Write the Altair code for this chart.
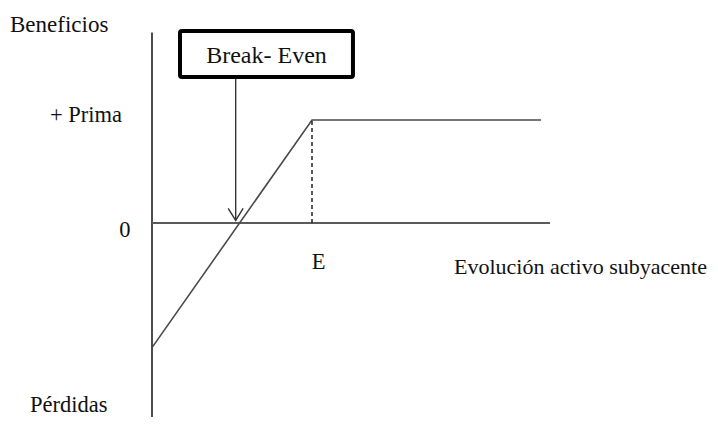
import altair as alt
import pandas as pd

# ---- data (diagram units: strike E = 100, premium = 10) ----
payoff_x = [0, 100, 243.1]
payoff_y = [-12.1, 10, 10]
strike = 100
prima = 10
breakeven_x = 52.3
vaxis_y = [-18.9, 18.5]
zero_line_x = [0, 248.8]
box_x = [17.5, 125.6]
box_y = [14.17, 18.64]
box_label = "Break- Even"
arrow_top = 14.17

left_labels = ["Beneficios", "Pérdidas", "Evolución activo subyacente"]
left_x = [-88.75, -76.25, 188.75]
left_y = [18.5, -18.35, -4.95]
left_size = [23, 22.5, 22]
right_labels = ["+ Prima"]
right_x = [-18.75]
right_y = [9.83]
center_labels = ["0", "E"]
center_x = [-16.9, 104.1]
center_y = [-1.36, -4.47]

# ---- layout ----
W, H = 702, 409
PX_X, PX_Y = 1.60, 10.3           # pixels per unit
ORIGIN_X, ORIGIN_Y = 144, 215      # origin position inside plot area
xdom = [-ORIGIN_X / PX_X, (W - ORIGIN_X) / PX_X]
ydom = [-(H - ORIGIN_Y) / PX_Y, ORIGIN_Y / PX_Y]
xs = alt.Scale(domain=xdom, nice=False, zero=False)
ys = alt.Scale(domain=ydom, nice=False, zero=False)
FONT = "Times New Roman, Liberation Serif, DejaVu Serif, serif"

def X(f="x"):
    return alt.X(f"{f}:Q", scale=xs, axis=None)

def Y(f="y"):
    return alt.Y(f"{f}:Q", scale=ys, axis=None)

vaxis = alt.Chart(pd.DataFrame({"x": [0], "y": [vaxis_y[0]], "y2": [vaxis_y[1]]})).mark_rule(
    color="#3a3a3a", strokeWidth=1.8).encode(x=X(), y=Y(), y2="y2:Q")

zline = alt.Chart(pd.DataFrame({"x": [zero_line_x[0]], "x2": [zero_line_x[1]], "y": [0]})).mark_rule(
    color="#5a5a5a", strokeWidth=1.8).encode(x=X(), x2="x2:Q", y=Y())

payoff = alt.Chart(pd.DataFrame({"x": payoff_x, "y": payoff_y, "o": [0, 1, 2]})).mark_line(
    color="#4a4a4a", strokeWidth=1.6).encode(x=X(), y=Y(), order="o:Q")

dashed = alt.Chart(pd.DataFrame({"x": [strike], "y": [0], "y2": [prima]})).mark_rule(
    color="#222", strokeWidth=1.5, strokeDash=[4, 3]).encode(x=X(), y=Y(), y2="y2:Q")

box = alt.Chart(pd.DataFrame({"x": [box_x[0]], "x2": [box_x[1]], "y": [box_y[0]], "y2": [box_y[1]]})).mark_rect(
    fill="white", stroke="black", strokeWidth=4, cornerRadius=2).encode(
    x=X(), x2="x2:Q", y=Y(), y2="y2:Q")

box_text = alt.Chart(pd.DataFrame({"x": [sum(box_x) / 2], "y": [sum(box_y) / 2 - 0.15], "t": [box_label]})).mark_text(
    font=FONT, fontSize=24, color="#111", align="center", baseline="middle").encode(
    x=X(), y=Y(), text="t:N")

arrow = alt.Chart(pd.DataFrame({"x": [breakeven_x], "y": [0.25], "y2": [arrow_top]})).mark_rule(
    color="#333", strokeWidth=1.4).encode(x=X(), y=Y(), y2="y2:Q")

head = alt.Chart(pd.DataFrame({"x": [breakeven_x], "y": [0.25]})).mark_point(
    shape="M-1,-1.6L0,0L1,-1.6", size=225, filled=False, stroke="#333", strokeWidth=1.4, opacity=1).encode(
    x=X(), y=Y())

def labels(names, xv, yv, align, sizes=None):
    layers = []
    sizes = sizes or [22.5] * len(names)
    for n, xv_, yv_, s in zip(names, xv, yv, sizes):
        layers.append(alt.Chart(pd.DataFrame({"x": [xv_], "y": [yv_], "t": [n]})).mark_text(
            font=FONT, fontSize=s, color="#111", align=align, baseline="alphabetic").encode(
            x=X(), y=Y(), text="t:N"))
    return layers

chart = alt.layer(
    vaxis, zline, payoff, dashed, arrow, head, box, box_text,
    *labels(left_labels, left_x, left_y, "left", left_size),
    *labels(right_labels, right_x, right_y, "right"),
    *labels(center_labels, center_x, center_y, "center"),
).properties(
    width=W, height=H, padding=0,
    autosize=alt.AutoSizeParams(type="none"),
    background="white",
).configure_view(stroke=None)

chart.save("out.html", embed_options={"renderer": "svg", "actions": False})
